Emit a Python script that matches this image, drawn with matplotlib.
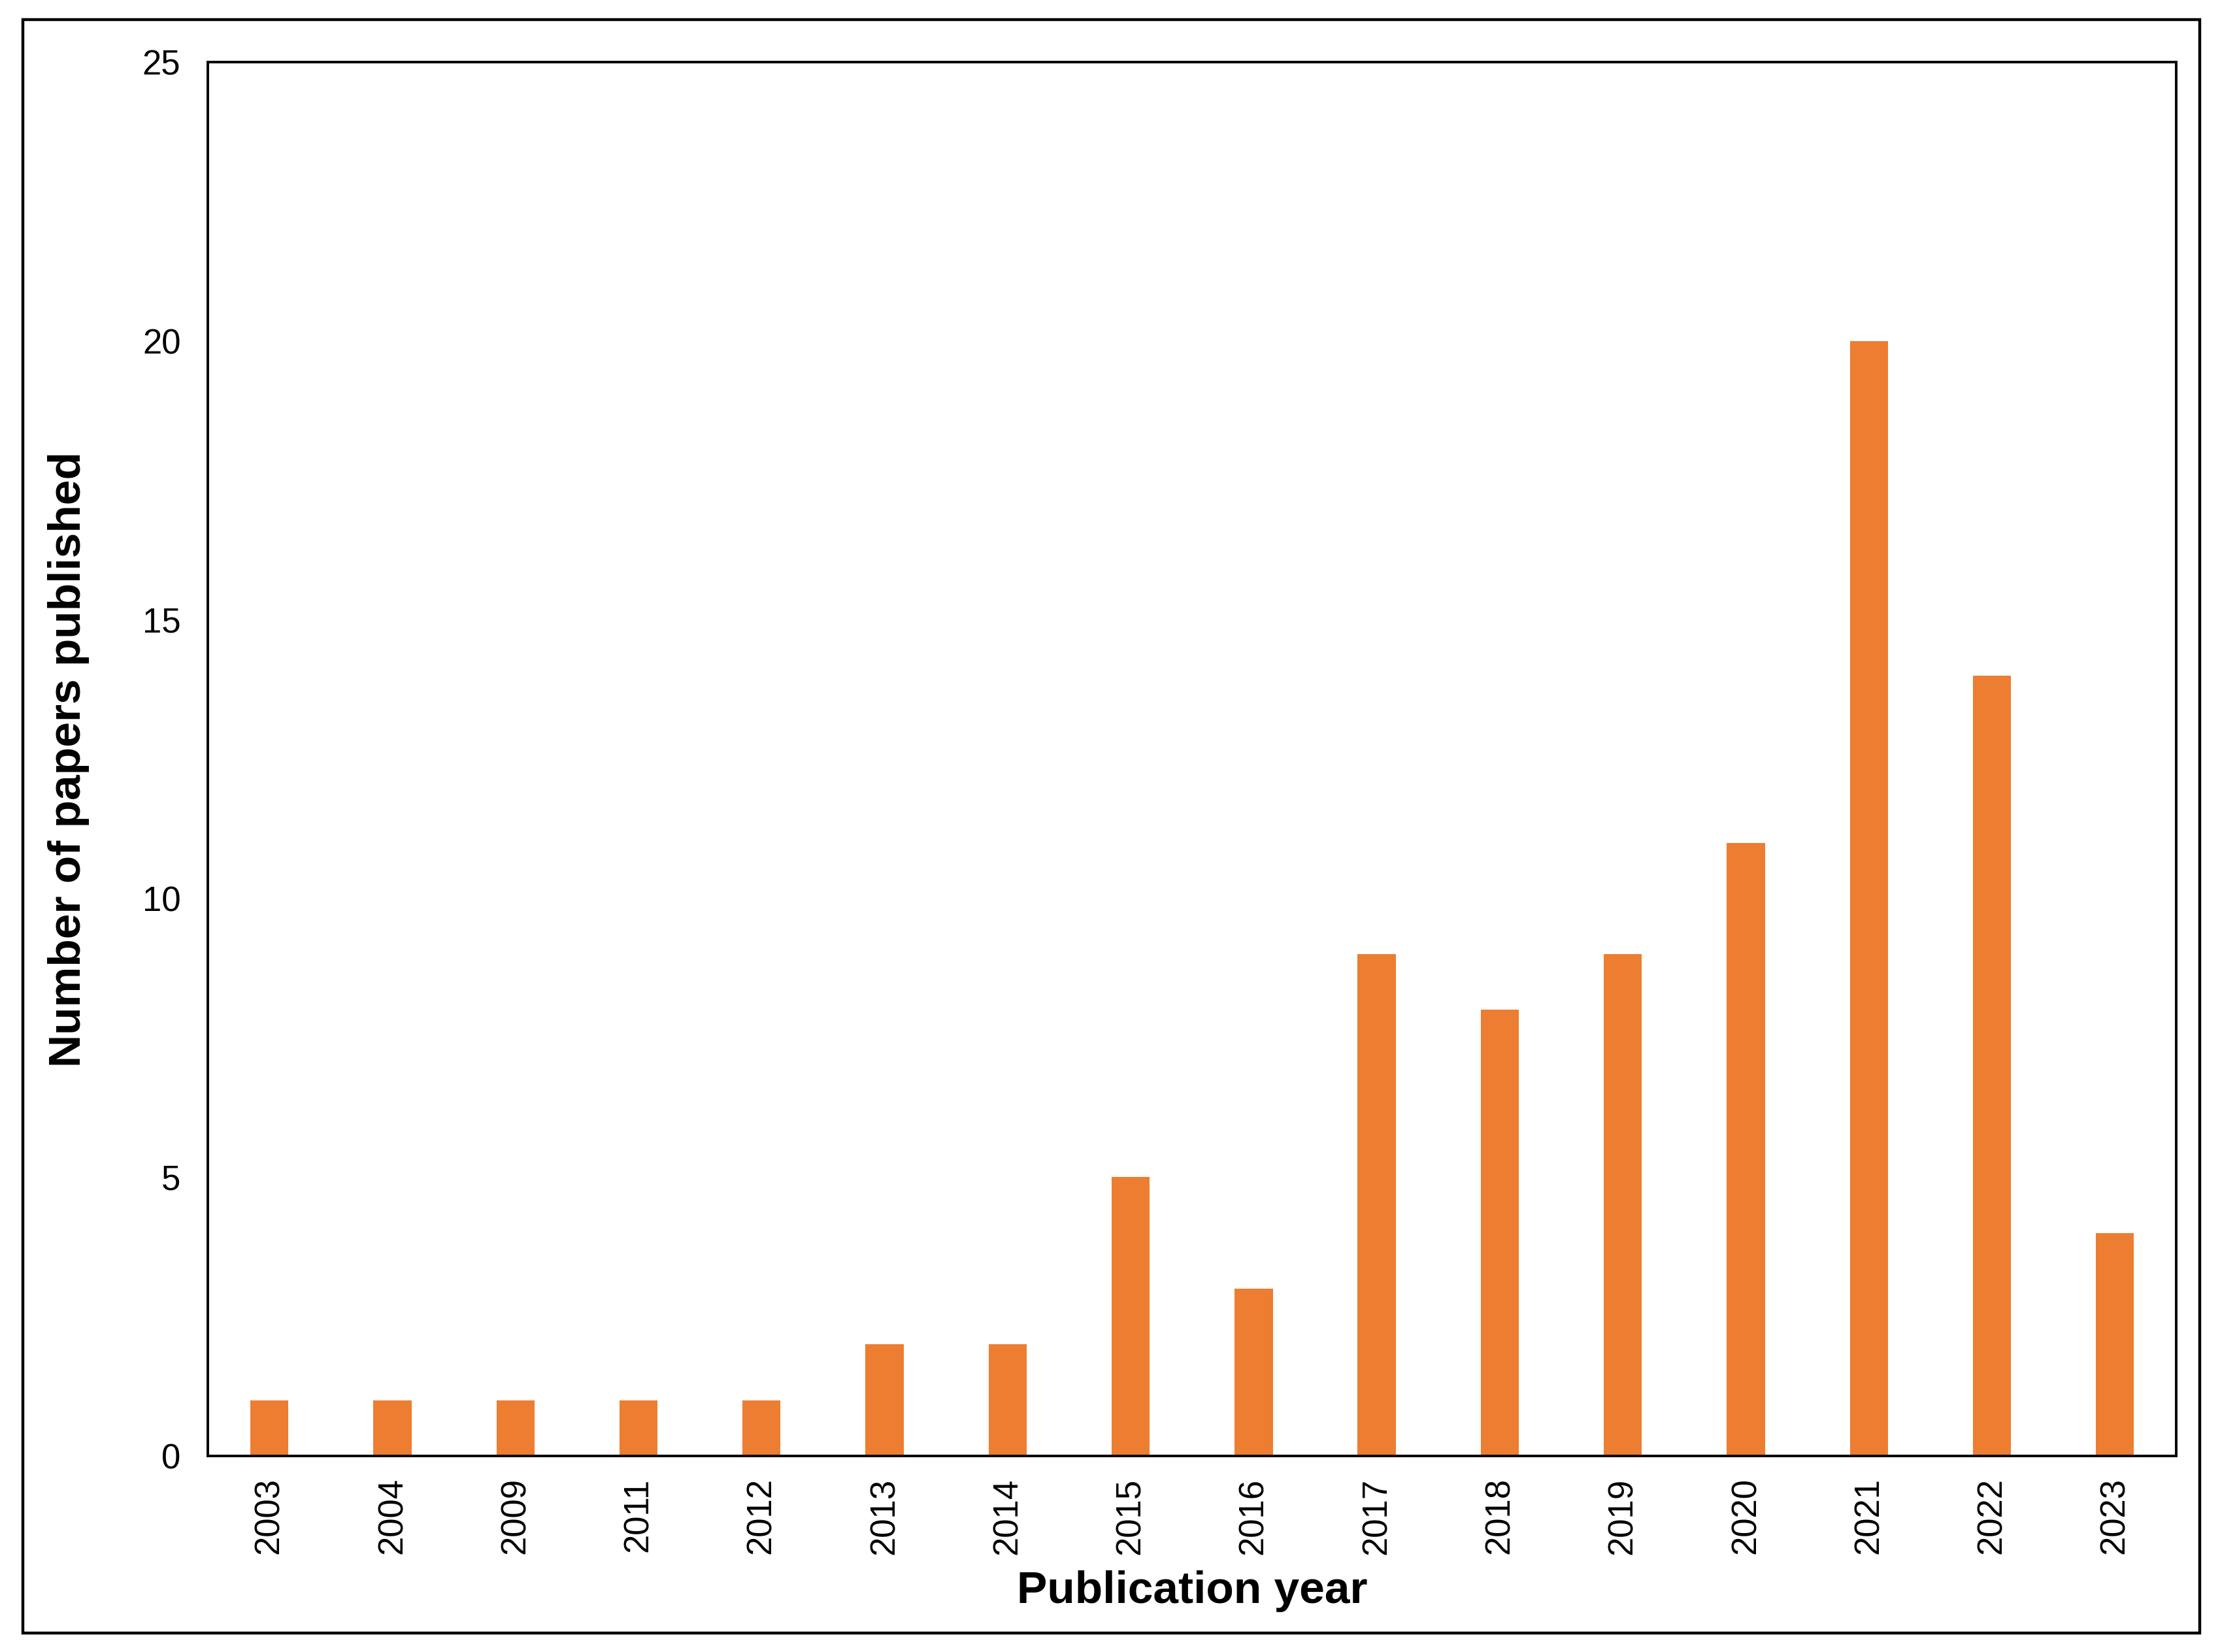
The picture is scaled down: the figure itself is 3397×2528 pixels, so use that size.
import matplotlib.pyplot as plt
from matplotlib.patches import Rectangle
import numpy as np

plt.rcParams['font.family'] = ['Liberation Sans', 'DejaVu Sans']

years = ['2003', '2004', '2009', '2011', '2012', '2013', '2014', '2015',
         '2016', '2017', '2018', '2019', '2020', '2021', '2022', '2023']
papers = [1, 1, 1, 1, 1, 2, 2, 5, 3, 9, 8, 9, 11, 20, 14, 4]
y_ticks = [0, 5, 10, 15, 20, 25]

fig = plt.figure(figsize=(16.99, 12.64), dpi=200)
ax = fig.add_axes([0.0936, 0.1187, 0.8865, 0.8436])

x = np.arange(len(years))
ax.bar(x, papers, width=0.31, color='#ED7D31')

ax.set_xlim(-0.5, len(years) - 0.5)
ax.set_ylim(0, 25)
ax.set_xticks(x)
ax.set_xticklabels(years, rotation=90, fontsize=19)
ax.set_yticks(y_ticks)
ax.set_yticklabels([str(t) for t in y_ticks], fontsize=19)
ax.tick_params(axis='x', length=0, pad=12)
ax.tick_params(axis='y', length=0, pad=15)

for s in ax.spines.values():
    s.set_linewidth(1.4)
    s.set_color('black')

ax.set_xlabel('Publication year', fontsize=25, fontweight='bold')
ax.set_ylabel('Number of papers published', fontsize=25, fontweight='bold')
ax.xaxis.set_label_coords(0.5, -0.082)
ax.yaxis.set_label_coords(-0.060, 0.5)

# outer frame round the whole picture
fig.patches.append(Rectangle((0.0103, 0.0115), 0.9803, 0.9766, transform=fig.transFigure,
                             fill=False, edgecolor='black', linewidth=1.6))

fig.savefig('out.png', dpi=200)
